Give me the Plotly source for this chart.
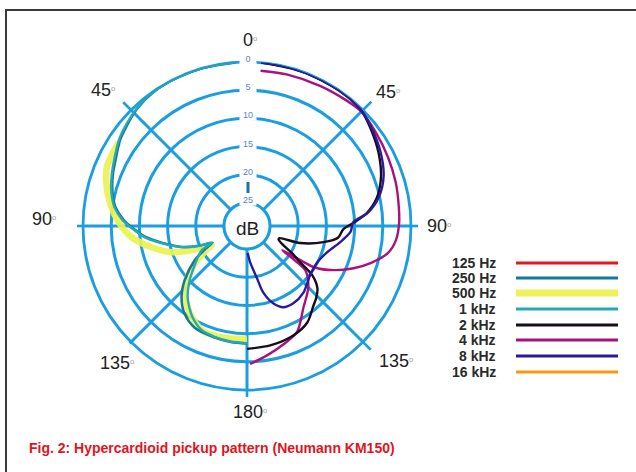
import math
import plotly.graph_objects as go

W, H = 636, 472
CX, CY = 247, 226          # centre of the polar grid (px)
R_OUT, R_HOLE = 164, 23    # outer ring and the "dB" hub (px)
GRID = "#1b9ee0"
FONT = "Liberation Sans, Arial, sans-serif"

# ---- measured response: angle in degrees (clockwise from on-axis), level in dB below on-axis
# low frequencies are shown on the left half, high frequencies on the right half
theta_250 = [-4, -15, -25, -35, -43.5, -50, -56, -63.4, -69, -73.9, -78, -81.8, -87.2, -91,
             -96.2, -101.3, -107.9, -112.2, -114.7, -116, -119, -123.2, -131.1, -137.5,
             -144.5, -152.8, -163.9, -172, -180]
level_250 = [0, 0, 0, 0.1, 0.6, 1.3, 1.9, 3.0, 3.6, 4.2, 4.8, 5.5, 7.2, 8.8,
             11.0, 13.8, 17.0, 19.8, 21.8, 22.2, 20.6, 18.0, 14.4, 11.9,
             10.0, 8.8, 8.5, 8.3, 8.2]

theta_500 = [-57, -62, -67, -73, -79.3, -87.3, -95.5, -102.5, -109.1, -113.6, -116.6, -118,
             -121, -126, -132, -138, -143.9, -150, -156.6, -162, -168.8, -175, -180]
level_500 = [1.9, 2.0, 2.1, 3.0, 4.2, 6.05, 8.5, 11.7, 14.9, 18.4, 21.1, 22.0,
             20.5, 17.5, 14.7, 12.8, 11.2, 10.0, 8.9, 8.8, 8.9, 9.0, 9.1]

theta_1k = [-4, -15, -25, -35, -43.5, -50, -56, -63.4, -69, -73.9, -78, -81.8, -87.2, -91,
            -96.2, -101.3, -107.9, -112.2, -114.7, -116, -118.1, -130.5, -135, -140.3,
            -145, -149.3, -156, -164, -172, -180]
level_1k = [0, 0, 0, 0.1, 0.55, 1.1, 1.7, 2.75, 3.4, 4.0, 4.6, 5.3, 6.95, 8.6,
            10.8, 13.6, 16.9, 19.7, 21.8, 22.3, 20.0, 16.2, 14.5, 12.6,
            11.3, 10.2, 9.0, 8.6, 8.4, 8.3]

theta_2k = [5, 20, 35, 44, 52, 61, 70, 78, 84, 88, 92, 97.4, 101.9, 107.8, 110.5, 113,
            117.8, 121, 124.2, 127, 131.5, 136, 140.1, 148, 157.1, 169, 180]
level_2k = [0, 0, 0, 0.2, 1.2, 2.4, 3.8, 5.6, 7.8, 10.0, 12.0, 12.8, 15.2, 19.2, 22.9, 23.0,
            21.8, 19.8, 17.7, 14.6, 12.4, 11.4, 10.7, 8.9, 8.0, 7.5, 7.3]

theta_4k = [5, 15, 27.5, 38, 45, 54, 63.8, 73.8, 82.8, 88.9, 95.4, 100.9, 106.7, 111.6,
            117.1, 121.5, 124.3, 125.5, 127.2, 135, 145.3, 154.7, 163, 171, 178.7]
level_4k = [1.45, 1.3, 1.06, 0.7, 0.4, 0.85, 1.25, 1.6, 1.95, 2.1, 2.55, 3.65, 6.2, 8.75,
            11.9, 15.0, 21.5, 19.2, 16.1, 13.7, 11.5, 8.3, 7.1, 5.9, 4.6]

theta_8k = [5, 15, 27, 35, 44, 52, 61, 70, 77.5, 83.8, 87.8, 93.3, 99.8, 108, 117.2, 127.9,
            139.7, 149.1, 156, 161.3, 166.4, 169.1, 175.2, 178.5]
level_8k = [0, 0, 0, 0.05, 0.2, 1.0, 2.0, 3.3, 5.1, 7.55, 10.2, 10.7, 12.3, 14.1, 15.05, 14.9,
            13.6, 13.1, 13.3, 14.6, 17.0, 19.6, 22.7, 24.3]

# ---- legend
legend_labels = ["125 Hz", "250 Hz", "500 Hz", "1 kHz", "2 kHz", "4 kHz", "8 kHz", "16 kHz"]
legend_colors = ["#e8161e", "#17799a", "#eef25a", "#25a9b8", "#1a0b1f", "#a8127c", "#2a1a9c", "#f7980f"]
legend_widths = [3, 3, 7, 3, 3, 3, 3, 3]

# ---- grid labels
ring_levels = [0, 5, 10, 15, 20, 25]
angle_labels = ["0", "45", "45", "90", "90", "135", "135", "180"]
angle_label_px = [(250, 40), (103, 90), (388, 92), (44, 219), (439, 226), (117, 363), (396, 361), (250, 412)]
spoke_angles = [45, 90, 135, 180, 225, 270, 315]
spoke_reach = [176, 171, 175, 171, 166, 170, 175]

caption = "Fig. 2: Hypercardioid pickup pattern (Neumann KM150)"


def px(x, y):
    return x / W, 1 - y / H


fig = go.Figure()

curves = [
    ("500 Hz", theta_500, level_500, "rgba(236,242,80,0.92)", 6.5),
    ("250 Hz", theta_250, level_250, legend_colors[1], 2.6),
    ("1 kHz", theta_1k, level_1k, legend_colors[3], 2.4),
    ("4 kHz", theta_4k, level_4k, legend_colors[5], 2.4),
    ("2 kHz", theta_2k, level_2k, legend_colors[4], 2.4),
    ("8 kHz", theta_8k, level_8k, legend_colors[6], 2.4),
]
for name, th, lv, col, wd in curves:
    fig.add_trace(go.Scatterpolar(
        theta=th, r=[-v for v in lv], mode="lines", name=name,
        line=dict(color=col, width=wd, shape="spline", smoothing=0.8),
        hoverinfo="skip", showlegend=False,
    ))

x0, y1 = px(CX - R_OUT, CY - R_OUT)
x1, y0 = px(CX + R_OUT, CY + R_OUT)

shapes = []
# spokes run a little past the outer ring
for ang, reach in zip(spoke_angles, spoke_reach):
    a = math.radians(ang)
    sx, sy = CX + R_OUT * math.sin(a), CY - R_OUT * math.cos(a)
    ex, ey = CX + reach * math.sin(a), CY - reach * math.cos(a)
    (ax, ay), (bx, by) = px(sx, sy), px(ex, ey)
    shapes.append(dict(type="line", xref="paper", yref="paper", x0=ax, y0=ay, x1=bx, y1=by,
                       line=dict(color=GRID, width=2.6)))
# hub circle
hx0, hy1 = px(CX - R_HOLE, CY - R_HOLE)
hx1, hy0 = px(CX + R_HOLE, CY + R_HOLE)
shapes.append(dict(type="circle", xref="paper", yref="paper", x0=hx0, y0=hy0, x1=hx1, y1=hy1,
                   line=dict(color=GRID, width=3), fillcolor="white"))
# small stub of the on-axis line
sx0, sy0 = px(CX + 1, 182)
sx1, sy1 = px(CX + 1, 193)
shapes.append(dict(type="line", xref="paper", yref="paper", x0=sx0, y0=sy0, x1=sx1, y1=sy1,
                   line=dict(color="#1f6fa8", width=3)))
# page frame
for (fx0, fy0, fx1, fy1) in [(5, 10, 636, 10), (6, 10, 6, 472)]:
    a0, b0 = px(fx0, fy0)
    a1, b1 = px(fx1, fy1)
    shapes.append(dict(type="line", xref="paper", yref="paper", x0=a0, y0=b0, x1=a1, y1=b1,
                       line=dict(color="#3a3a3a", width=2)))

annotations = []
# ring levels, set in gaps of the rings
for lv in ring_levels:
    rp = R_HOLE + (25 - lv) / 25 * (R_OUT - R_HOLE)
    ax, ay = px(248, CY - rp - 3)
    annotations.append(dict(x=ax, y=ay, xref="paper", yref="paper", text=str(lv), showarrow=False,
                            font=dict(family=FONT, size=9, color="#5a84c2"), bgcolor="white",
                            width=16, height=10, xanchor="center", yanchor="middle", borderpad=0))
# angle labels
for txt, (lx, ly) in zip(angle_labels, angle_label_px):
    ax, ay = px(lx, ly)
    annotations.append(dict(x=ax, y=ay, xref="paper", yref="paper", showarrow=False,
                            text=txt + "<span style='color:#a0a0a0;font-size:11px'><sup>o</sup></span>",
                            font=dict(family=FONT, size=18, color="#222222"),
                            xanchor="center", yanchor="middle"))
# hub label
ax, ay = px(CX, 228)
annotations.append(dict(x=ax, y=ay, xref="paper", yref="paper", text="dB", showarrow=False,
                        font=dict(family=FONT, size=19, color="#1e1e1e"), xanchor="center", yanchor="middle"))
# legend rows
row_y = [263, 278, 293, 309, 325, 340, 356, 372]
for lab, col, wd, ry in zip(legend_labels, legend_colors, legend_widths, row_y):
    ax, ay = px(498, ry)
    annotations.append(dict(x=ax, y=ay, xref="paper", yref="paper", text=f"<b>{lab}</b>", showarrow=False,
                            font=dict(family=FONT, size=14, color="#2a2a2a"), xanchor="right", yanchor="middle"))
    l0x, l0y = px(516, ry)
    l1x, l1y = px(618, ry)
    shapes.append(dict(type="line", xref="paper", yref="paper", x0=l0x, y0=l0y, x1=l1x, y1=l1y,
                       line=dict(color=col, width=wd)))
# caption
ax, ay = px(27, 448)
annotations.append(dict(x=ax, y=ay, xref="paper", yref="paper", text=f"<b>{caption}</b>", showarrow=False,
                        font=dict(family=FONT, size=14, color="#e3141c"),
                        xanchor="left", yanchor="middle"))

fig.update_layout(
    width=W, height=H, autosize=False,
    margin=dict(l=0, r=0, t=0, b=0),
    paper_bgcolor="white",
    showlegend=False,
    polar=dict(
        domain=dict(x=[x0, x1], y=[y0, y1]),
        hole=R_HOLE / R_OUT,
        bgcolor="white",
        radialaxis=dict(range=[-25, 0], tickvals=[-20, -15, -10, -5], showticklabels=False, ticks="",
                        showline=False, gridcolor=GRID, gridwidth=2.6, layer="below traces"),
        angularaxis=dict(rotation=90, direction="clockwise", tickvals=spoke_angles,
                         showticklabels=False, ticks="", showline=True, linecolor=GRID, linewidth=2.8,
                         gridcolor=GRID, gridwidth=2.6, layer="below traces"),
    ),
    shapes=shapes,
    annotations=annotations,
)

fig.write_html("out.html")
